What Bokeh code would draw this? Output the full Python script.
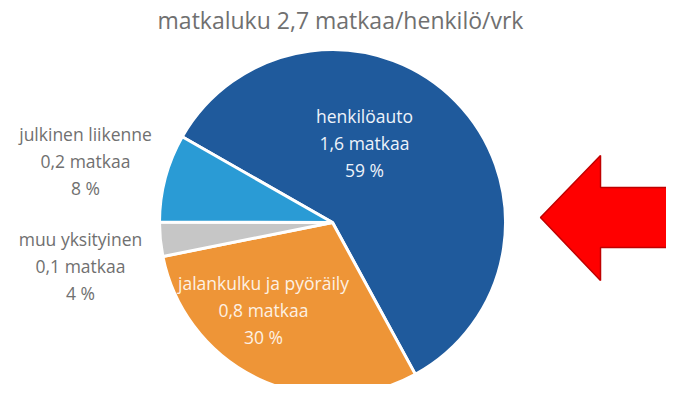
import math
from bokeh.plotting import figure
from bokeh.models import Range1d, ColumnDataSource
from bokeh.core.properties import value
from bokeh.embed import file_html
from bokeh.resources import INLINE

# ---- data ----
title_text = "matkaluku 2,7 matkaa/henkilö/vrk"
categories = ["henkilöauto", "jalankulku ja pyöräily", "muu yksityinen", "julkinen liikenne"]
trips = ["1,6 matkaa", "0,8 matkaa", "0,1 matkaa", "0,2 matkaa"]
pct_labels = ["59 %", "30 %", "4 %", "8 %"]
shares = [58.8, 29.8, 3.2, 8.2]  # slice sizes (%)
colors = ["#1f5a9c", "#ee9537", "#c6c6c6", "#2a9bd5"]

# ---- layout (image pixel coords, y down) ----
W, H = 666, 384
cx, cy, r = 332, 222, 173
start_deg = 150.3
label_pos = [(364, 115), (263, 282), (80, 238), (85, 133)]
label_color = ["#eef3fa", "#fdf1e4", "#707070", "#707070"]
line_gap = 27

def Y(y):
    return 400 - y

p = figure(width=W, height=H, output_backend="svg", toolbar_location=None,
           x_range=Range1d(0, W), y_range=Range1d(400 - H, 400),
           x_axis_location=None, y_axis_location=None, min_border=0)
p.grid.visible = False
p.outline_line_color = None
p.background_fill_color = "white"

# wedges, clockwise from start angle
starts, ends = [], []
cum = 0.0
for s in shares:
    a0 = math.radians(start_deg - cum * 3.6)
    a1 = math.radians(start_deg - (cum + s) * 3.6)
    starts.append(a1)
    ends.append(a0)
    cum += s
src = ColumnDataSource(dict(x=[cx] * 4, y=[Y(cy)] * 4, start=starts, end=ends, color=colors))
p.wedge(x="x", y="y", radius=r, start_angle="start", end_angle="end",
        fill_color="color", line_color="white", line_width=3, source=src)

# title
p.text(x=[340], y=[Y(19)], text=[title_text], text_align="center", text_baseline="middle",
       text_font=value("Open Sans"), text_font_size="23px", text_color="#707070")

# labels
for i in range(4):
    lx, ly = label_pos[i]
    lines = [categories[i], trips[i], pct_labels[i]]
    p.text(x=[lx] * 3, y=[Y(ly + k * line_gap) for k in range(3)], text=lines,
           text_align="center", text_baseline="middle",
           text_font=value("Open Sans"), text_font_size="17.5px", text_color=label_color[i])

# red arrow (decoration)
ax = [540, 600, 600, 682, 682, 600, 600]
ay = [217, 155, 187, 187, 247, 247, 280]
p.patch(x=ax, y=[Y(v) for v in ay], fill_color="#ff0000", line_color="#c00000", line_width=1.5)

open("out.html", "w").write(file_html(p, INLINE))
